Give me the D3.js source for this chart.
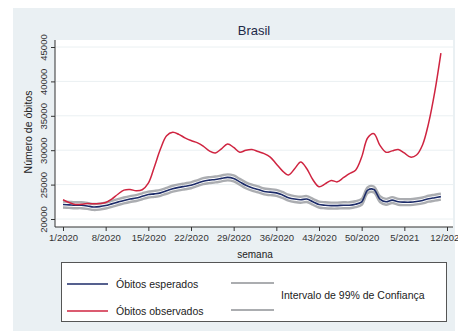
<!DOCTYPE html>
<html>
<head>
<meta charset="utf-8">
<script src="https://cdn.jsdelivr.net/npm/d3@7"></script>
<style>
  body { margin: 0; background: #fff; }
  svg { display: block; font-family: "Liberation Sans", Arial, sans-serif; }
</style>
</head>
<body>
<div id="chart"></div>
<script>
// weekly deaths, Brasil, week 1/2020 .. 11/2021 (index 0..62)
const observados = [22800,22400,22100,22150,22250,22200,22250,22400,22900,23600,
  24200,24300,24100,24250,25200,27600,30200,32100,32600,32300,
  31800,31400,31100,30600,29900,29600,30200,30900,30400,29700,
  30000,30100,29800,29500,29000,28000,27000,26400,27300,28300,
  27300,25700,24700,25100,25600,25400,26000,26600,27100,29000,
  31800,32400,30700,29700,29900,30100,29600,29000,29300,30800,
  34000,38500,44100];

const esperados = [22100,22050,22000,22000,21900,21750,21800,21950,22200,22450,
  22700,22900,23050,23300,23550,23650,23800,24100,24400,24600,
  24750,24900,25200,25500,25650,25750,25900,26050,25900,25400,
  24900,24550,24300,24000,23900,23800,23500,23100,22900,22800,
  22900,22500,22100,22000,21950,21950,22000,22000,22150,22500,
  24200,24300,22900,22500,22750,22500,22450,22450,22550,22700,
  22950,23100,23250];

const icSuperior = [22530,22480,22430,22430,22330,22180,22230,22380,22630,22880,
  23130,23330,23480,23730,23980,24080,24230,24530,24830,25030,
  25180,25330,25630,25930,26080,26180,26330,26480,26330,25830,
  25330,24980,24730,24430,24330,24230,23930,23530,23330,23230,
  23330,22930,22530,22430,22380,22380,22430,22430,22580,22930,
  24630,24730,23330,22930,23180,22930,22880,22880,22980,23130,
  23380,23530,23680];

const icInferior = [21670,21620,21570,21570,21470,21320,21370,21520,21770,22020,
  22270,22470,22620,22870,23120,23220,23370,23670,23970,24170,
  24320,24470,24770,25070,25220,25320,25470,25620,25470,24970,
  24470,24120,23870,23570,23470,23370,23070,22670,22470,22370,
  22470,22070,21670,21570,21520,21520,21570,21570,21720,22070,
  23770,23870,22470,22070,22320,22070,22020,22020,22120,22270,
  22520,22670,22820];

const tickWeeks = [0,7,14,21,28,35,42,49,56,63];
const tickLabels = ["1/2020","8/2020","15/2020","22/2020","29/2020","36/2020","43/2020","50/2020","5/2021","12/2021"];
const yTicks = [20000,25000,30000,35000,40000,45000];

let width = 458, height = 331;
const svg = d3.select("#chart").append("svg")
    .attr("width", width).attr("height", height);

// graph region + plot region
svg.append("rect").attr("x", 13).attr("y", 8).attr("width", 442).attr("height", 323).attr("fill", "#eaf0f3");
svg.append("rect").attr("x", 55).attr("y", 40).attr("width", 398).attr("height", 187).attr("fill", "#fff");

let x = d3.scaleLinear().domain([0, 63]).range([63, 447]);
let y = d3.scaleLinear().domain([20000, 45000]).range([219, 47]);

// gridlines
svg.append("g")
  .selectAll("line")
  .data(yTicks)
  .join("line")
  .attr("x1", 56).attr("x2", 453)
  .attr("y1", d => y(d)).attr("y2", d => y(d))
  .attr("stroke", "#eaf0f2").attr("stroke-width", 1);

// axes
const yAxis = svg.append("g")
  .attr("transform", "translate(55,0)")
  .call(d3.axisLeft(y).tickValues(yTicks).tickSize(4).tickPadding(3).tickFormat(d => d));
yAxis.select(".domain").attr("d", "M0,40V227").attr("stroke", "#333");
yAxis.selectAll(".tick line").attr("stroke", "#333");
yAxis.selectAll(".tick text")
  .attr("transform", "rotate(-90)")
  .attr("x", 0).attr("y", -8)
  .attr("text-anchor", "middle")
  .attr("dy", 0)
  .attr("font-size", 9.5).attr("fill", "#333");

const xAxis = svg.append("g")
  .attr("transform", "translate(0,227)")
  .call(d3.axisBottom(x).tickValues(tickWeeks).tickSize(4).tickPadding(3)
    .tickFormat((d, i) => tickLabels[i]));
xAxis.select(".domain").attr("d", "M55,0H453").attr("stroke", "#333");
xAxis.selectAll(".tick line").attr("stroke", "#333");
xAxis.selectAll(".tick text").attr("font-size", 9.5).attr("fill", "#333");

// lines
const line = d3.line().x((d, i) => x(i)).y(d => y(d)).curve(d3.curveCatmullRom);

[icSuperior, icInferior].forEach(s => {
  svg.append("path").datum(s)
    .attr("d", line).attr("fill", "none")
    .attr("stroke", "#9c9fa3").attr("stroke-width", 2.4).attr("opacity", 0.85);
});
svg.append("path").datum(esperados)
  .attr("d", line).attr("fill", "none")
  .attr("stroke", "#1c2b68").attr("stroke-width", 1.6);
svg.append("path").datum(observados)
  .attr("d", line).attr("fill", "none")
  .attr("stroke", "#cf2440").attr("stroke-width", 1.5);

// titles
svg.append("text").attr("x", 254).attr("y", 35).attr("text-anchor", "middle")
  .attr("font-size", 13).attr("fill", "#1e2a48").text("Brasil");
svg.append("text").attr("transform", "translate(32,132) rotate(-90)")
  .attr("text-anchor", "middle").attr("font-size", 10.5).attr("fill", "#222")
  .text("Número de óbitos");
svg.append("text").attr("x", 255).attr("y", 258).attr("text-anchor", "middle")
  .attr("font-size", 10).attr("fill", "#222").text("semana");

// legend
const lg = svg.append("g");
lg.append("rect").attr("x", 61.5).attr("y", 262.5).attr("width", 385).attr("height", 59)
  .attr("fill", "#fff").attr("stroke", "#555");
const legendItems = [
  { label: "Óbitos esperados", color: "#1c2b68", y: 284 },
  { label: "Óbitos observados", color: "#cf2440", y: 311 }
];
legendItems.forEach(it => {
  lg.append("line").attr("x1", 67).attr("x2", 108).attr("y1", it.y).attr("y2", it.y)
    .attr("stroke", it.color).attr("stroke-width", 1.6);
  lg.append("text").attr("x", 116).attr("y", it.y + 3.5).attr("font-size", 10.5)
    .attr("fill", "#222").text(it.label);
  lg.append("line").attr("x1", 231).attr("x2", 274).attr("y1", it.y - 1).attr("y2", it.y - 1)
    .attr("stroke", "#8f9296").attr("stroke-width", 1.6);
});
lg.append("text").attr("x", 281).attr("y", 299).attr("font-size", 10.5)
  .attr("fill", "#222").text("Intervalo de 99% de Confiança");
</script>
</body>
</html>
